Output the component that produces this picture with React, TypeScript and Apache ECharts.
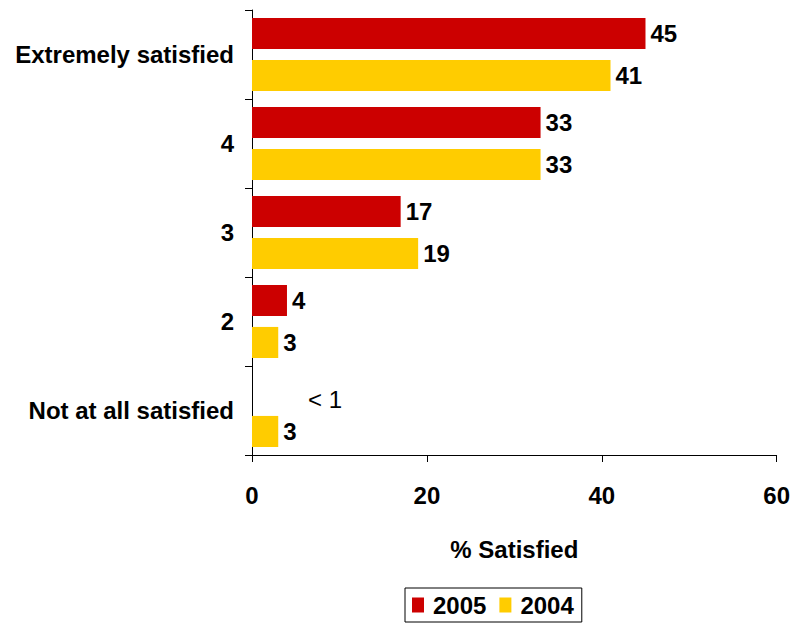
import React, { useEffect, useRef } from "react";
import * as echarts from "echarts";

const categories = ["Extremely satisfied", "4", "3", "2", "Not at all satisfied"];
const values2005 = [45, 33, 17, 4, 0];
const labels2005 = ["45", "33", "17", "4", "< 1"];
const values2004 = [41, 33, 19, 3, 3];
const xTicks = [0, 20, 40, 60];

const FONT = "'Liberation Sans', Arial, sans-serif";
const FS = 24;

export default function App() {
  const ref = useRef<HTMLDivElement>(null);
  useEffect(() => {
    if (!ref.current) return;
    const chart = echarts.init(ref.current, null, { renderer: "svg" });
    chart.setOption({
      animation: false,
      textStyle: { fontFamily: FONT },
      grid: { left: 252, right: 14, top: 10, bottom: 170, containLabel: false },
      legend: {
        left: 405,
        top: 588,
        padding: [5, 8, 5, 7],
        borderColor: "#000",
        borderWidth: 1,
        itemWidth: 12,
        itemHeight: 15,
        itemGap: 13,
        icon: "rect",
        textStyle: {
          fontFamily: FONT,
          fontWeight: "bold",
          fontSize: FS,
          color: "#000",
          padding: [0, 0, 0, 4],
        },
        data: ["2005", "2004"],
      },
      xAxis: {
        type: "value",
        min: xTicks[0],
        max: xTicks[xTicks.length - 1],
        interval: 20,
        name: "% Satisfied",
        nameLocation: "middle",
        nameGap: 82,
        nameTextStyle: { fontFamily: FONT, fontWeight: "bold", fontSize: FS, color: "#000" },
        axisLine: { show: true, lineStyle: { color: "#000", width: 1 } },
        axisTick: { show: true, length: 7, lineStyle: { color: "#000" } },
        axisLabel: { margin: 28, fontFamily: FONT, fontWeight: "bold", fontSize: FS, color: "#000" },
        splitLine: { show: false },
      },
      yAxis: {
        type: "category",
        inverse: true,
        data: categories,
        axisLine: { show: true, lineStyle: { color: "#000", width: 1 } },
        axisTick: { show: true, length: 7, lineStyle: { color: "#000" } },
        axisLabel: { margin: 18, fontFamily: FONT, fontWeight: "bold", fontSize: FS, color: "#000" },
      },
      series: [
        {
          name: "2005",
          type: "bar",
          barGap: "35%",
          barCategoryGap: "18%",
          itemStyle: { color: "#CC0000" },
          label: {
            show: true,
            position: "right",
            distance: 5,
            fontFamily: FONT,
            fontWeight: "bold",
            fontSize: FS,
            color: "#000",
            formatter: (p: any) => labels2005[p.dataIndex],
          },
          data: values2005.map((v, i) =>
            labels2005[i].startsWith("<")
              ? { value: v, label: { fontWeight: "normal", offset: [51, 10] } }
              : v
          ),
        },
        {
          name: "2004",
          type: "bar",
          barGap: "35%",
          barCategoryGap: "18%",
          itemStyle: { color: "#FFCC00" },
          label: {
            show: true,
            position: "right",
            distance: 5,
            fontFamily: FONT,
            fontWeight: "bold",
            fontSize: FS,
            color: "#000",
          },
          data: values2004,
        },
      ],
    });
    return () => chart.dispose();
  }, []);
  return <div ref={ref} style={{ width: 793, height: 625, position: "absolute", left: 0, top: 0 }} />;
}
